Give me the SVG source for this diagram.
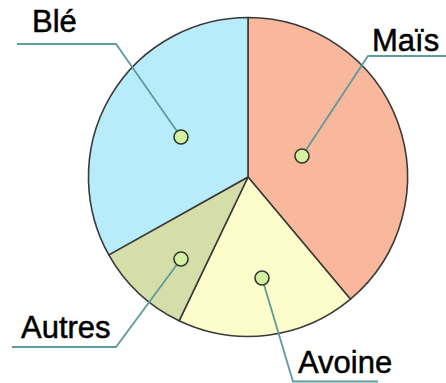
<svg xmlns="http://www.w3.org/2000/svg" width="446" height="383" viewBox="0 0 446 383">
  <style>
    .slice { stroke: #3a3a3a; stroke-width: 1.6; stroke-linejoin: round; }
    .leader { fill: none; stroke: #5f9c9c; stroke-width: 1.8; }
    .dot { fill: #d6f0a2; stroke: #2e3a2e; stroke-width: 1.6; }
    .label { font-family: "Liberation Sans", Arial, sans-serif; font-size: 31px; fill: #000; stroke: #000; stroke-width: 0.5; }
  </style>
  <rect width="446" height="383" fill="#ffffff"/>
  <g id="pie">
    <path id="slice-mais" class="slice" fill="#f9b79c" d="M248,177 L248,17.5 A159.5,159.5 0 0 1 350.5,299.2 Z"/>
    <path id="slice-avoine" class="slice" fill="#fdfccb" d="M248,177 L350.5,299.2 A159.5,159.5 0 0 1 179.1,320.8 Z"/>
    <path id="slice-autres" class="slice" fill="#d5dea9" d="M248,177 L179.1,320.8 A159.5,159.5 0 0 1 108.8,254.9 Z"/>
    <path id="slice-ble" class="slice" fill="#b8ecfb" d="M248,177 L108.8,254.9 A159.5,159.5 0 0 1 248,17.5 Z"/>
  </g>
  <g id="connectors">
    <polyline class="leader" points="17,44 116,44 181,137"/>
    <polyline class="leader" points="302,156 368,56 446,56"/>
    <polyline class="leader" points="181,259 116,347 12,347"/>
    <polyline class="leader" points="262,278 293,381.5 378,381.5"/>
  </g>
  <g id="ble">
    <circle class="dot" cx="181" cy="137" r="7"/>
    <text class="label" x="32" y="32">Blé</text>
  </g>
  <g id="mais">
    <circle class="dot" cx="302" cy="156" r="7"/>
    <text class="label" x="372" y="51">Maïs</text>
  </g>
  <g id="autres">
    <circle class="dot" cx="181" cy="259" r="7"/>
    <text class="label" x="21" y="338">Autres</text>
  </g>
  <g id="avoine">
    <circle class="dot" cx="262" cy="278" r="7"/>
    <text class="label" x="298" y="373">Avoine</text>
  </g>
</svg>
